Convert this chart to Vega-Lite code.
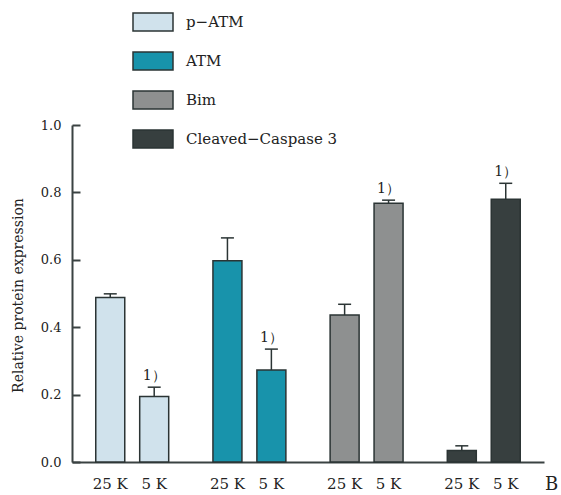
{
  "$schema": "https://vega.github.io/schema/vega-lite/v6.json",
  "width": 472,
  "height": 337,
  "autosize": {"type": "none"},
  "padding": {"left": 72, "top": 125, "right": 17, "bottom": 33},
  "background": "white",
  "config": {
    "view": {"stroke": null},
    "font": "DejaVu Serif",
    "axis": {"grid": false}
  },
  "data": {
    "values": [
      {"protein": "p−ATM", "condition": "25 K", "value": 0.488, "upper": 0.499, "sig": ""},
      {"protein": "p−ATM", "condition": "5 K", "value": 0.194, "upper": 0.222, "sig": "1）"},
      {"protein": "ATM", "condition": "25 K", "value": 0.597, "upper": 0.665, "sig": ""},
      {"protein": "ATM", "condition": "5 K", "value": 0.273, "upper": 0.335, "sig": "1）"},
      {"protein": "Bim", "condition": "25 K", "value": 0.436, "upper": 0.468, "sig": ""},
      {"protein": "Bim", "condition": "5 K", "value": 0.768, "upper": 0.777, "sig": "1）"},
      {"protein": "Cleaved−Caspase 3", "condition": "25 K", "value": 0.034, "upper": 0.048, "sig": ""},
      {"protein": "Cleaved−Caspase 3", "condition": "5 K", "value": 0.780, "upper": 0.827, "sig": "1）"}
    ]
  },
  "encoding": {
    "x": {
      "field": "protein",
      "type": "nominal",
      "sort": ["p−ATM", "ATM", "Bim", "Cleaved−Caspase 3"],
      "scale": {"paddingInner": 0.25, "paddingOuter": 0.139},
      "axis": {
        "labels": false,
        "ticks": false,
        "domain": true,
        "domainColor": "#3a4242",
        "domainWidth": 2,
        "title": "B",
        "titleX": 479,
        "titleY": 22,
        "titleAlign": "center",
        "titleBaseline": "middle",
        "titleFont": "DejaVu Serif",
        "titleFontSize": 18,
        "titleFontWeight": "normal",
        "titleColor": "#222"
      }
    },
    "xOffset": {
      "field": "condition",
      "type": "nominal",
      "sort": ["25 K", "5 K"],
      "scale": {"paddingInner": 0.34, "paddingOuter": 0.17}
    }
  },
  "layer": [
    {
      "mark": {"type": "bar", "stroke": "#2b3434", "strokeWidth": 1.5, "opacity": 1},
      "encoding": {
        "y": {
          "field": "value",
          "type": "quantitative",
          "scale": {"domain": [0, 1], "nice": false},
          "axis": {
            "values": [0, 0.2, 0.4, 0.6, 0.8, 1.0],
            "format": ".1f",
            "domainColor": "#3a4242",
            "domainWidth": 2,
            "tickColor": "#3a4242",
            "tickWidth": 2,
            "tickSize": -8,
            "labelPadding": 19,
            "labelFont": "DejaVu Serif",
            "labelFontSize": 13,
            "labelColor": "#222",
            "title": "Relative protein expression",
            "titleFont": "DejaVu Serif",
            "titleFontSize": 14,
            "titleFontWeight": "normal",
            "titleColor": "#222",
            "titleX": -54,
            "titleY": 170,
            "titleAlign": "center",
            "titleBaseline": "middle",
            "titleAngle": 270
          }
        },
        "color": {
          "field": "protein",
          "type": "nominal",
          "sort": ["p−ATM", "ATM", "Bim", "Cleaved−Caspase 3"],
          "scale": {"range": ["#d0e2ec", "#1893ab", "#8e9090", "#373f3f"]},
          "legend": {
            "title": null,
            "orient": "none",
            "legendX": 60,
            "legendY": -124,
            "direction": "vertical",
            "symbolType": "M-1,-0.45H1V0.45H-1Z",
            "symbolSize": 1600,
            "symbolStrokeColor": "#2b3434",
            "symbolStrokeWidth": 1.5,
            "symbolOpacity": 1,
            "labelFont": "DejaVu Serif",
            "labelFontSize": 15,
            "labelColor": "#222",
            "labelOffset": 12,
            "rowPadding": 6,
            "labelLimit": 300
          }
        }
      }
    },
    {
      "mark": {"type": "rule", "color": "#2b3434", "strokeWidth": 1.5},
      "encoding": {
        "y": {"field": "value", "type": "quantitative"},
        "y2": {"field": "upper"}
      }
    },
    {
      "mark": {"type": "tick", "color": "#2b3434", "thickness": 1.5, "size": 13, "orient": "horizontal", "opacity": 1},
      "encoding": {
        "y": {"field": "upper", "type": "quantitative"}
      }
    },
    {
      "mark": {"type": "text", "font": "DejaVu Serif", "fontSize": 14, "baseline": "alphabetic", "dy": -7, "color": "#222"},
      "encoding": {
        "y": {"field": "upper", "type": "quantitative"},
        "text": {"field": "sig"}
      }
    },
    {
      "mark": {"type": "text", "font": "DejaVu Serif", "fontSize": 15, "baseline": "middle", "dy": 22, "color": "#222"},
      "encoding": {
        "y": {"datum": 0, "type": "quantitative"},
        "text": {"field": "condition"}
      }
    }
  ]
}
